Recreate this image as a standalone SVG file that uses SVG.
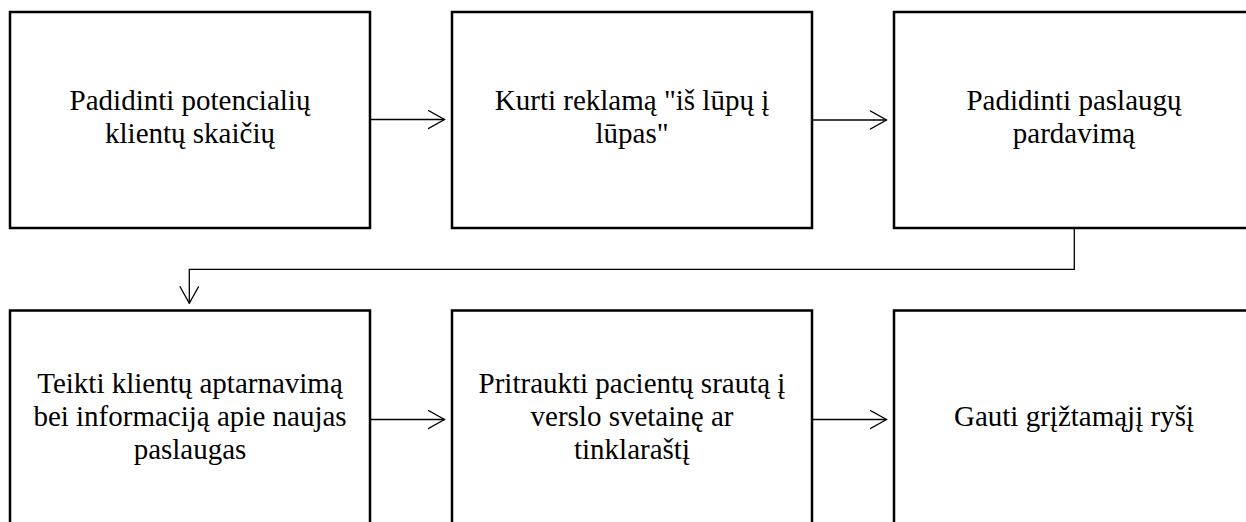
<svg xmlns="http://www.w3.org/2000/svg" width="1246" height="522" viewBox="0 0 1246 522">
  <style>
    .box { fill: #ffffff; stroke: #000000; stroke-width: 2.5; }
    .lbl { font-family: 'Liberation Serif', 'DejaVu Serif', serif; font-size: 29px; fill: #000000; text-anchor: middle; }
    .conn { fill: none; stroke: #000000; stroke-width: 1.3; }
  </style>
  <defs>
    <marker id="open-arrow" viewBox="0 0 18 20" refX="17" refY="10" markerWidth="18" markerHeight="20" markerUnits="userSpaceOnUse" orient="auto">
      <path d="M0,0.5 L17,10 L0,19.5" fill="none" stroke="#000000" stroke-width="1.3"/>
    </marker>
  </defs>
  <rect width="1246" height="522" fill="#ffffff"/>

  <!-- top row -->
  <g id="node-potencialiu-klientu" font-family="Liberation Serif, serif">
    <rect class="box" x="10" y="12" width="360" height="216"/>
    <text class="lbl" x="190" y="110">Padidinti potencialių</text>
    <text class="lbl" x="190" y="143">klientų skaičių</text>
  </g>
  <g id="node-reklama" font-family="Liberation Serif, serif">
    <rect class="box" x="452" y="12" width="360" height="216"/>
    <text class="lbl" x="632" y="110">Kurti reklamą "iš lūpų į</text>
    <text class="lbl" x="632" y="143">lūpas"</text>
  </g>
  <g id="node-pardavimas" font-family="Liberation Serif, serif">
    <rect class="box" x="894" y="12" width="360" height="216"/>
    <text class="lbl" x="1074" y="110">Padidinti paslaugų</text>
    <text class="lbl" x="1074" y="143">pardavimą</text>
  </g>

  <!-- bottom row -->
  <g id="node-aptarnavimas" font-family="Liberation Serif, serif">
    <rect class="box" x="10" y="310.5" width="360" height="219"/>
    <text class="lbl" x="190" y="393">Teikti klientų aptarnavimą</text>
    <text class="lbl" x="190" y="426">bei informaciją apie naujas</text>
    <text class="lbl" x="190" y="459">paslaugas</text>
  </g>
  <g id="node-srautas" font-family="Liberation Serif, serif">
    <rect class="box" x="452" y="310.5" width="360" height="219"/>
    <text class="lbl" x="632" y="393">Pritraukti pacientų srautą į</text>
    <text class="lbl" x="632" y="426">verslo svetainę ar</text>
    <text class="lbl" x="632" y="459">tinklaraštį</text>
  </g>
  <g id="node-griztamasis" font-family="Liberation Serif, serif">
    <rect class="box" x="894" y="310.5" width="360" height="219"/>
    <text class="lbl" x="1074" y="426">Gauti grįžtamąjį ryšį</text>
  </g>

  <!-- connectors -->
  <g id="connectors">
    <path class="conn" d="M370,119.5 H444.5" marker-end="url(#open-arrow)"/>
    <path class="conn" d="M812,120 H886.5" marker-end="url(#open-arrow)"/>
    <path class="conn" d="M1074.3,228 V269.3 H189.3 V303.3" marker-end="url(#open-arrow)"/>
    <path class="conn" d="M370,419.5 H444.5" marker-end="url(#open-arrow)"/>
    <path class="conn" d="M812,419.5 H886.5" marker-end="url(#open-arrow)"/>
  </g>
</svg>
